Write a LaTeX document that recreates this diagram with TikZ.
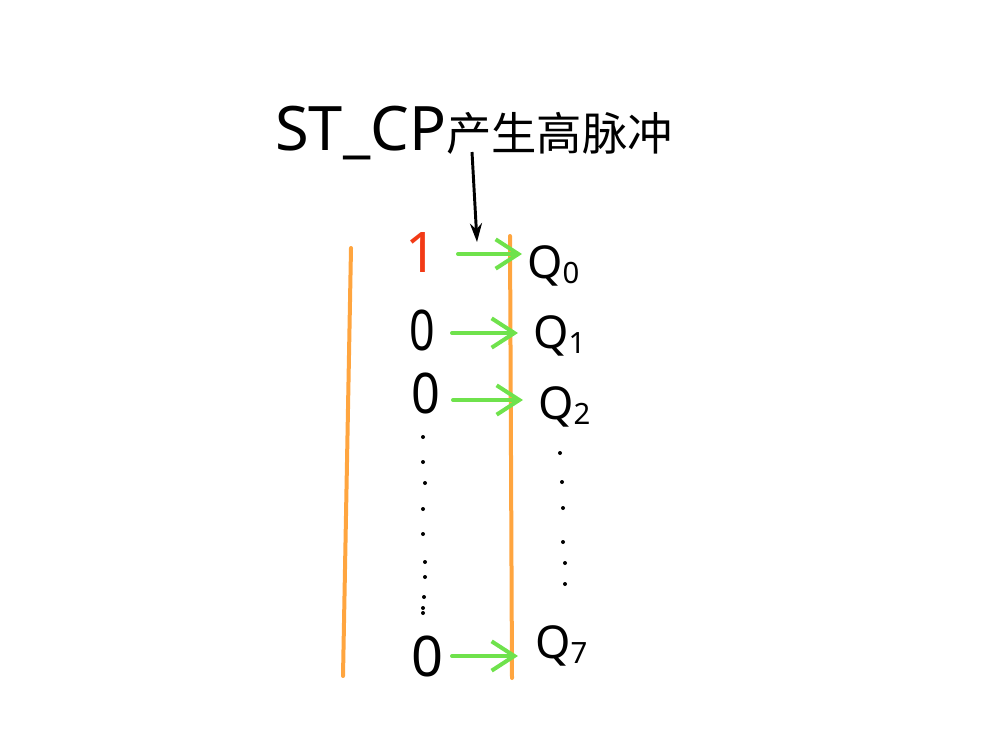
\documentclass[tikz,border=0pt]{standalone}
\usepackage{fontspec}
\setmainfont{Noto Sans}
\newfontfamily\cjk{Noto Sans CJK SC}
\usetikzlibrary{arrows.meta}
\definecolor{rail}{HTML}{FFA53F}
\definecolor{shift}{HTML}{6FE24C}
\definecolor{bitred}{HTML}{F23A16}
\tikzset{
  rail/.style={draw=rail,line width=3pt,line cap=round},
  shiftarrow/.style={draw=shift,line width=3pt,line cap=round,line join=round,
    -{Straight Barb[length=17pt,width=22pt,line width=3pt]}},
  bit/.style={inner sep=0pt,font=\fontsize{42}{42}\selectfont},
  qlabel/.style={inner sep=0pt,anchor=base west,font=\fontsize{34}{34}\selectfont},
  dotmark/.style={fill=black,draw=none},
}
\newcommand{\qsub}[1]{\raisebox{-4pt}{\fontsize{22}{22}\selectfont #1}}
\begin{document}
\begin{tikzpicture}[x=0.75pt,y=-0.75pt]
\useasboundingbox (0,0) rectangle (1006,746);
% title
\node[anchor=base west,inner sep=0pt] (title) at (275,150)
  {{\fontsize{46}{46}\selectfont ST\_CP}{\cjk\fontsize{34}{34}\selectfont 产生高脉冲}};
\coordinate (clk) at (477,242);
\draw[line width=2.2pt,-{Stealth[length=14pt,width=9pt]}] (472,152) -- (clk);
% rails
\draw[rail] (351,248) -- (343,676);
\draw[rail] (510,236) -- (512,678);
% bits
\node[bit,text=bitred,font=\fontsize{42}{42}\bfseries] (b0) at (422,253) {1};
\node[bit,xscale=0.8] (b1) at (422,330) {0};
\node[bit,xscale=0.9] (b2) at (426,393) {0};
\node[bit] (b7) at (428,656) {0};
% targets
\coordinate (t0) at (522,254);
\coordinate (t1) at (518,333);
\coordinate (t2) at (523,400);
\coordinate (t7) at (518,656);
\draw[shiftarrow] (458,254) -- (t0);
\draw[shiftarrow] (452,333) -- (t1);
\draw[shiftarrow] (453,400) -- (t2);
\draw[shiftarrow] (452,656) -- (t7);
% Q labels
\node[qlabel] (q0) at (527,278) {Q\qsub{0}};
\node[qlabel] (q1) at (533,348) {Q\qsub{1}};
\node[qlabel] (q2) at (538,419) {Q\qsub{2}};
\node[qlabel] (q7) at (535,658) {Q\qsub{7}};
% dots left
\foreach \x/\y in {423/437,423/462,425/483,423/509,423/534,425/562,425/577,424/597,423/608,423/613}
  \fill[dotmark] (\x,\y) circle (2);
% dots right
\foreach \x/\y in {560/453,562/482,563/508,563/542,565/563,565/584}
  \fill[dotmark] (\x,\y) circle (2);
\end{tikzpicture}
\end{document}
